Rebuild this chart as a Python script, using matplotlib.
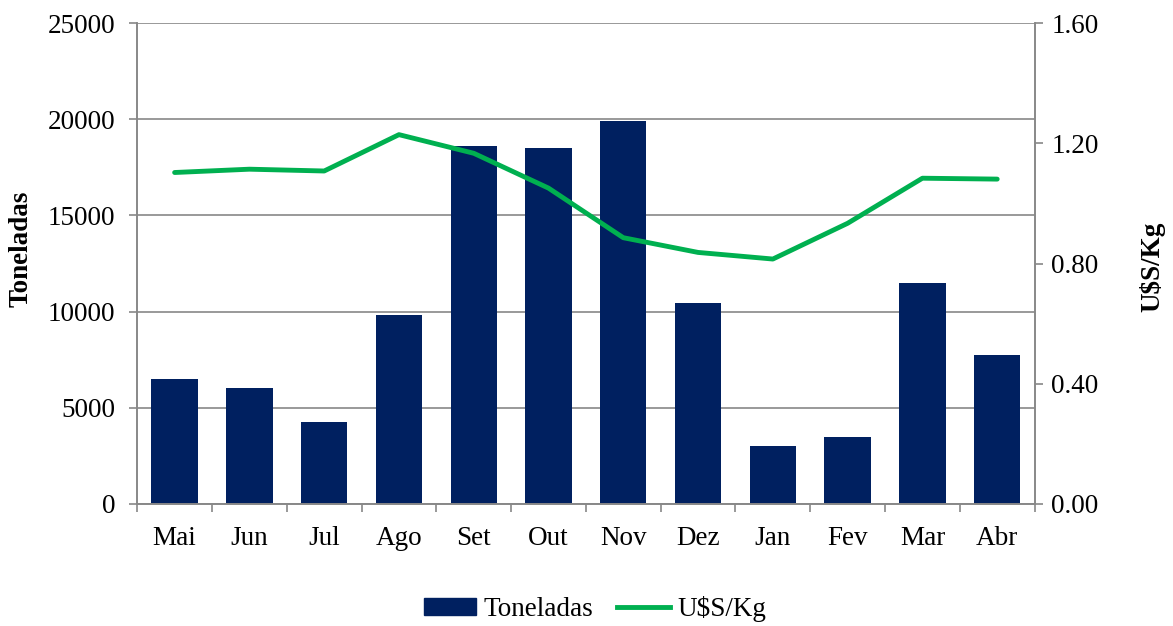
import matplotlib.pyplot as plt
from matplotlib.patches import Patch
from matplotlib.lines import Line2D
import numpy as np

plt.rcParams['font.family'] = ['Liberation Serif', 'DejaVu Serif']

meses = ['Mai', 'Jun', 'Jul', 'Ago', 'Set', 'Out', 'Nov', 'Dez', 'Jan', 'Fev', 'Mar', 'Abr']
toneladas = [6500, 6045, 4240, 9840, 18620, 18520, 19890, 10460, 3030, 3500, 11500, 7745]
preco = [1.103, 1.114, 1.108, 1.229, 1.167, 1.051, 0.886, 0.837, 0.815, 0.934, 1.084, 1.081]

azul = '#002060'
verde = '#00B050'
cinza = '#888888'
fs = 19.5

fig = plt.figure(figsize=(11.73, 6.26), dpi=100)
ax = fig.add_axes([0.117, 0.195, 0.765, 0.768])
x = np.arange(len(meses))

ax.bar(x, toneladas, width=0.62, color=azul, zorder=2)
ax.set_ylim(0, 25000)
ax.set_xlim(-0.5, 11.5)
ax.set_yticks(range(0, 25001, 5000))
ax.grid(axis='y', color=cinza, linewidth=1.2, zorder=0)
ax.set_xticks(x)
ax.set_xticklabels(meses)
ax.set_xticks(np.arange(-0.5, 12, 1), minor=True)
ax.tick_params(axis='x', which='major', length=0, labelsize=fs, pad=16)
ax.tick_params(axis='x', which='minor', length=6, color=cinza, width=1.2)
ax.tick_params(axis='y', labelsize=fs, length=6, color=cinza, width=1.2, pad=10)
ax.set_ylabel('Toneladas', fontsize=fs, fontweight='bold')
ax.yaxis.set_label_coords(-0.116, 0.53)
for s in ax.spines.values():
    s.set_color(cinza)
    s.set_linewidth(1.2)
ax.spines['top'].set_visible(False)

ax2 = ax.twinx()
ax2.plot(x, preco, color=verde, linewidth=3.5, solid_capstyle='round', zorder=3)
ax2.set_ylim(0, 1.6)
ax2.set_yticks([0, 0.4, 0.8, 1.2, 1.6])
ax2.set_yticklabels(['0.00', '0.40', '0.80', '1.20', '1.60'])
ax2.tick_params(axis='y', labelsize=fs, length=6, color=cinza, width=1.2, pad=6)
ax2.set_ylabel('U$S/Kg', fontsize=fs, fontweight='bold')
ax2.yaxis.set_label_coords(1.117, 0.494)
for s in ax2.spines.values():
    s.set_color(cinza)
    s.set_linewidth(1.2)
ax2.spines['top'].set_visible(False)

handles = [Patch(color=azul, label='Toneladas'),
           Line2D([0], [0], color=verde, linewidth=3.5, label='U$S/Kg')]
fig.legend(handles=handles, loc='center', bbox_to_anchor=(0.507, 0.027), ncol=2,
           frameon=False, fontsize=fs, handlelength=1.95, handleheight=0.6,
           columnspacing=0.9, handletextpad=0.25)

fig.savefig('out.png', dpi=100)
